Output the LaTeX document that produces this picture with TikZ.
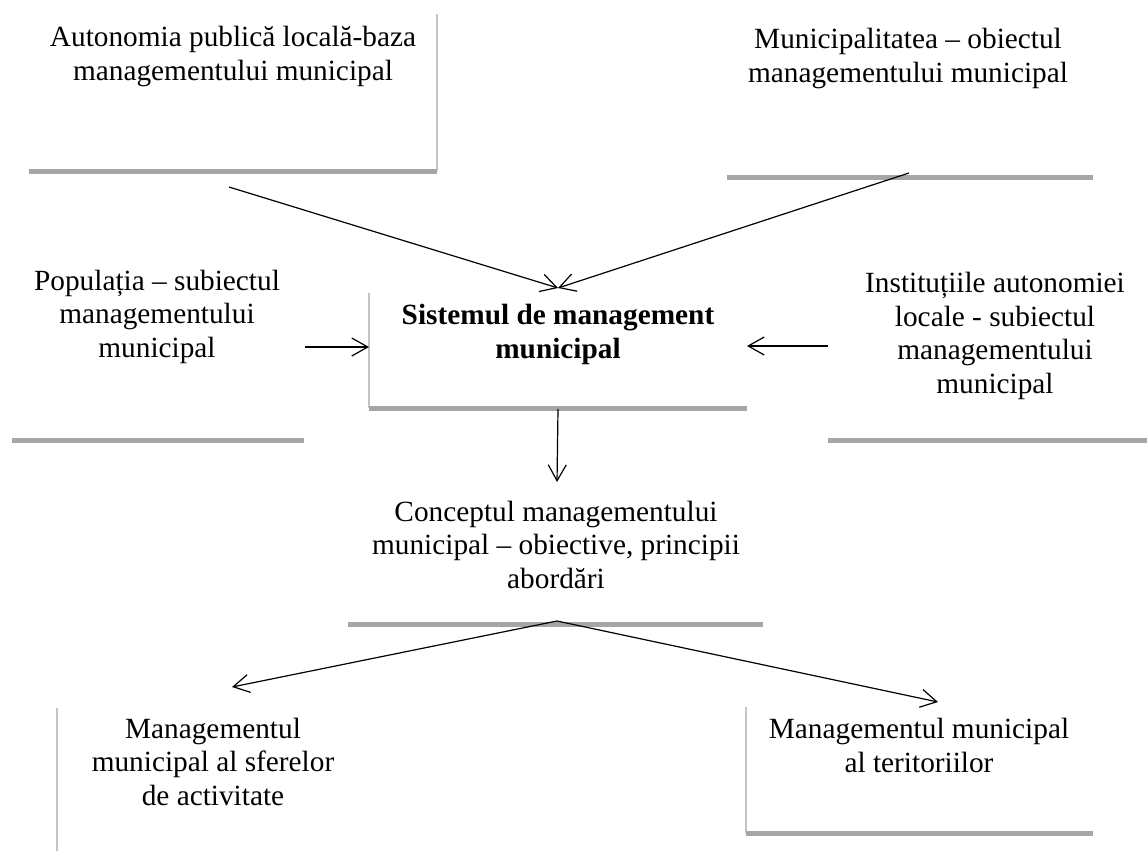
\documentclass[tikz,border=0pt]{standalone}
\usepackage{fontspec}
\setmainfont{Liberation Serif}
\usetikzlibrary{arrows.meta}
\definecolor{shadowgray}{HTML}{A6A6A6}
\definecolor{edgegray}{HTML}{C4C4C4}
\begin{document}
\begin{tikzpicture}[x=1pt,y=-1pt,
  lbl/.style={align=center,inner sep=0pt,anchor=base,font=\fontsize{29.3}{33.4}\selectfont},
  shadowline/.style={draw=shadowgray,line width=5pt},
  edgeline/.style={draw=edgegray,line width=1.2pt},
  conn/.style={draw=black,line width=1.2pt,-{Straight Barb[length=16pt,width=18pt]}}]
\useasboundingbox (0,0) rectangle (1147,851);

% box outlines (thin edge + shadow bottom)
\draw[edgeline] (437,14) -- (437,171);
\draw[shadowline] (29,171) -- (437,171);
\draw[shadowline] (727,177) -- (1093,177);
\draw[shadowline] (12,440) -- (304,440);
\draw[edgeline] (369,293) -- (369,408);
\draw[shadowline] (369,408) -- (747,408);
\draw[shadowline] (828,440) -- (1147,440);
\draw[shadowline] (348,624) -- (763,624);
\draw[edgeline] (57,708) -- (57,851);
\draw[edgeline] (746,707) -- (746,833);
\draw[shadowline] (746,833) -- (1093,833);

% texts (anchor base = baseline of last line)
\node[lbl] (auto) at (233,80) {Autonomia publică locală-baza\\managementului municipal};
\node[lbl] (munic) at (908,82) {Municipalitatea – obiectul\\managementului municipal};
\node[lbl] (pop) at (157,357) {Populația – subiectul\\managementului\\municipal};
\node[lbl,font=\fontsize{29.3}{33.4}\selectfont\bfseries] (sist) at (558,358) {Sistemul de management\\municipal};
\node[lbl] (inst) at (995,393) {Instituțiile autonomiei\\locale - subiectul\\managementului\\municipal};
\node[lbl] (conc) at (556,588) {Conceptul managementului\\municipal – obiective, principii\\abordări};
\node[lbl] (sfer) at (213,805) {Managementul\\municipal al sferelor\\de activitate};
\node[lbl] (teri) at (919,772) {Managementul municipal\\al teritoriilor};

% connector end points
\coordinate (autoOut) at (229,187);
\coordinate (municOut) at (909,173);
\coordinate (sistTop) at (558,288);
\coordinate (popOut) at (305,347);
\coordinate (sistLeft) at (369,347);
\coordinate (instOut) at (828,346);
\coordinate (sistRight) at (747,346);
\coordinate (sistOut) at (558,409);
\coordinate (concTop) at (557,482);
\coordinate (concOut) at (557,621);
\coordinate (sferIn) at (232,687);
\coordinate (teriIn) at (938,702);

\draw[conn] (autoOut) -- (sistTop);
\draw[conn] (municOut) -- (sistTop);
\draw[conn] (popOut) -- (sistLeft);
\draw[conn] (instOut) -- (sistRight);
\draw[conn] (sistOut) -- (concTop);
\draw[conn] (concOut) -- (sferIn);
\draw[conn] (concOut) -- (teriIn);
\end{tikzpicture}
\end{document}
